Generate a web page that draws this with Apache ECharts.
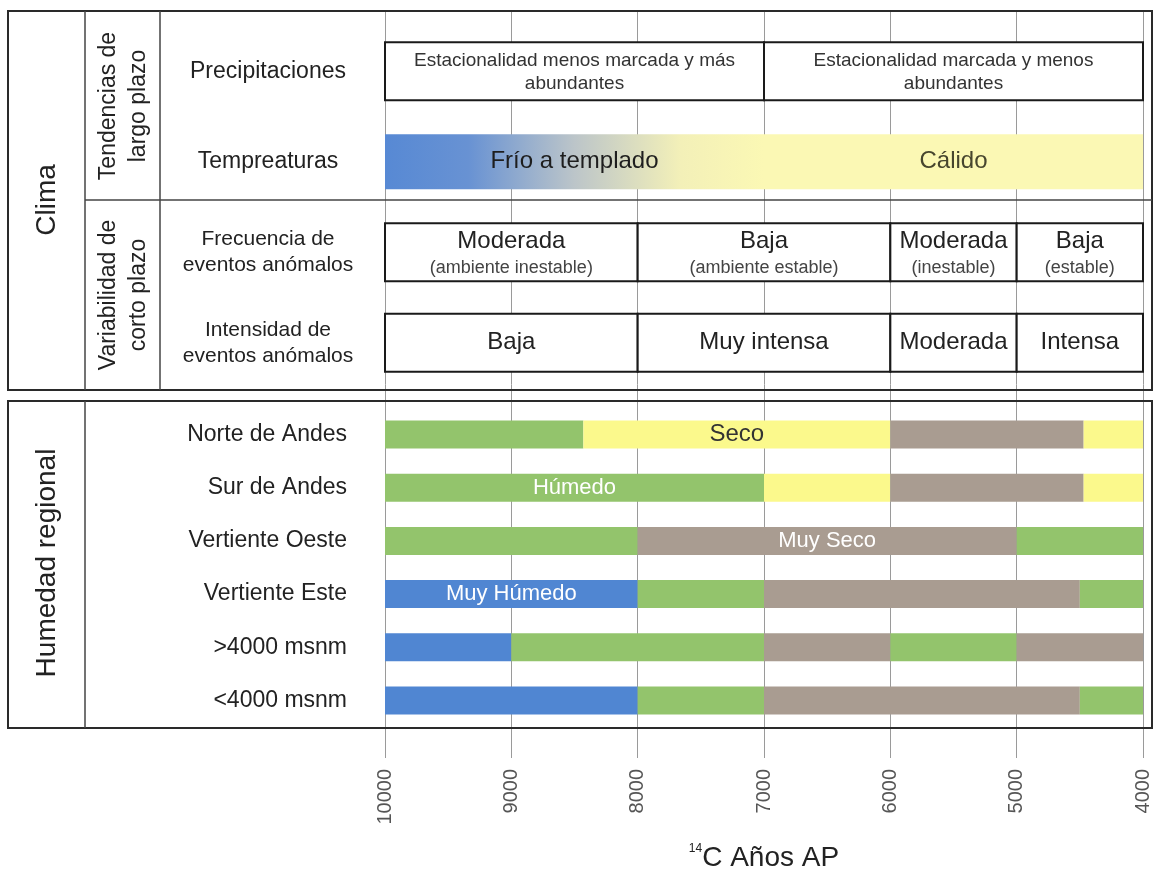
<!DOCTYPE html>
<html>
<head>
<meta charset="utf-8">
<script src="https://cdn.jsdelivr.net/npm/echarts@6/dist/echarts.min.js"></script>
<style>
  html, body { margin: 0; padding: 0; background: #fff; }
  #chart { width: 1157px; height: 877px; }
</style>
</head>
<body>
<div id="chart"></div>
<script>
  // ejes
  const years = [10000, 9000, 8000, 7000, 6000, 5000, 4000];
  const climaRows = ['Precipitaciones', 'Tempreaturas', 'Frecuencia de\neventos anómalos', 'Intensidad de\neventos anómalos'];
  const humedadRows = ['Norte de Andes', 'Sur de Andes', 'Vertiente Oeste', 'Vertiente Este', '>4000 msnm', '<4000 msnm'];

  // clima: [inicio, fin, texto, subtexto]
  const precipitaciones = [
    [10000, 7000, 'Estacionalidad menos marcada y más\nabundantes'],
    [7000, 4000, 'Estacionalidad marcada y menos\nabundantes']
  ];
  const temperaturas = [
    [10000, 7000, 'Frío a templado'],
    [7000, 4000, 'Cálido']
  ];
  const frecuencia = [
    [10000, 8000, 'Moderada', '(ambiente inestable)'],
    [8000, 6000, 'Baja', '(ambiente estable)'],
    [6000, 5000, 'Moderada', '(inestable)'],
    [5000, 4000, 'Baja', '(estable)']
  ];
  const intensidad = [
    [10000, 8000, 'Baja'],
    [8000, 6000, 'Muy intensa'],
    [6000, 5000, 'Moderada'],
    [5000, 4000, 'Intensa']
  ];

  // humedad regional: [inicio, fin, estado, texto]
  const norteAndes = [[10000, 8430, 'humedo'], [8430, 6000, 'seco', 'Seco'], [6000, 4470, 'muySeco'], [4470, 4000, 'seco']];
  const surAndes = [[10000, 7000, 'humedo', 'Húmedo'], [7000, 6000, 'seco'], [6000, 4470, 'muySeco'], [4470, 4000, 'seco']];
  const vertienteOeste = [[10000, 8000, 'humedo'], [8000, 5000, 'muySeco', 'Muy Seco'], [5000, 4000, 'humedo']];
  const vertienteEste = [[10000, 8000, 'muyHumedo', 'Muy Húmedo'], [8000, 7000, 'humedo'], [7000, 4500, 'muySeco'], [4500, 4000, 'humedo']];
  const sobre4000 = [[10000, 9000, 'muyHumedo'], [9000, 7000, 'humedo'], [7000, 6000, 'muySeco'], [6000, 5000, 'humedo'], [5000, 4000, 'muySeco']];
  const bajo4000 = [[10000, 8000, 'muyHumedo'], [8000, 7000, 'humedo'], [7000, 4500, 'muySeco'], [4500, 4000, 'humedo']];

  // estilos
  const FONT = 'Liberation Sans, Arial, sans-serif';
  const stateColors = { muyHumedo: '#5086d2', humedo: '#93c46c', seco: '#fbf98c', muySeco: '#a99c91' };
  const stateText = { muyHumedo: '#fff', humedo: '#fff', seco: '#333', muySeco: '#fff' };
  const tempFill = [
    {
      type: 'linear', x: 0, y: 0, x2: 1, y2: 0,
      colorStops: [
        { offset: 0, color: '#5789d4' },
        { offset: 0.22, color: '#6892d3' },
        { offset: 0.5, color: '#bcc5c9' },
        { offset: 0.78, color: '#f3f0b8' },
        { offset: 1, color: '#fbf8b4' }
      ]
    },
    '#fbf8b4'
  ];

  const climaItems = [];
  [precipitaciones, temperaturas, frecuencia, intensidad].forEach((list, row) => {
    list.forEach((s, i) => climaItems.push({ row, idx: i, start: s[0], end: s[1], main: s[2], sub: s[3] }));
  });
  const humedadItems = [];
  [norteAndes, surAndes, vertienteOeste, vertienteEste, sobre4000, bajo4000].forEach((list, row) => {
    list.forEach(s => humedadItems.push({ row, start: s[0], end: s[1], state: s[2], label: s[3] }));
  });

  function renderClima(params, api) {
    const d = climaItems[params.dataIndex];
    const p0 = api.coord([d.start, d.row]);
    const p1 = api.coord([d.end, d.row]);
    const cy = p0[1];
    const h = d.row === 1 ? 55 : 58;
    const children = [];
    const cx = (p0[0] + p1[0]) / 2;
    if (d.row === 1) {
      children.push({
        type: 'rect',
        shape: { x: p0[0], y: cy - h / 2, width: p1[0] - p0[0], height: h },
        style: { fill: tempFill[d.idx] }
      });
      children.push({
        type: 'text',
        style: { text: d.main, x: cx, y: cy, align: 'center', verticalAlign: 'middle', font: '24px ' + FONT, fill: d.idx === 0 ? '#1e1e1e' : '#47462e' }
      });
    } else {
      children.push({
        type: 'rect',
        shape: { x: p0[0], y: cy - h / 2, width: p1[0] - p0[0], height: h },
        style: { fill: '#fff', stroke: '#1a1a1a', lineWidth: 2 }
      });
      if (d.row === 0) {
        children.push({
          type: 'text',
          style: { text: d.main, x: cx, y: cy + 1, align: 'center', verticalAlign: 'middle', font: '19px ' + FONT, lineHeight: 23, fill: '#333' }
        });
      } else if (d.row === 2) {
        children.push({
          type: 'text',
          style: { text: d.main, x: cx, y: cy - 11, align: 'center', verticalAlign: 'middle', font: '24px ' + FONT, fill: '#222' }
        });
        children.push({
          type: 'text',
          style: { text: d.sub, x: cx, y: cy + 16, align: 'center', verticalAlign: 'middle', font: '18px ' + FONT, fill: '#444' }
        });
      } else {
        children.push({
          type: 'text',
          style: { text: d.main, x: cx, y: cy, align: 'center', verticalAlign: 'middle', font: '24px ' + FONT, fill: '#222' }
        });
      }
    }
    return { type: 'group', children };
  }

  function renderHumedad(params, api) {
    const d = humedadItems[params.dataIndex];
    const p0 = api.coord([d.start, d.row]);
    const p1 = api.coord([d.end, d.row]);
    const h = 28;
    const children = [{
      type: 'rect',
      shape: { x: p0[0], y: p0[1] - h / 2, width: p1[0] - p0[0], height: h },
      style: { fill: stateColors[d.state] }
    }];
    if (d.label) {
      children.push({
        type: 'text',
        style: {
          text: d.label, x: (p0[0] + p1[0]) / 2, y: p0[1], align: 'center', verticalAlign: 'middle',
          font: (d.state === 'seco' ? '24px ' : '22px ') + FONT, fill: stateText[d.state]
        }
      });
    }
    return { type: 'group', children };
  }

  const chart = echarts.init(document.getElementById('chart'));
  const xBase = { type: 'value', min: 4000, max: 10000, interval: 1000, inverse: true };

  const frameStyle = { fill: 'transparent', stroke: '#2a2a2a', lineWidth: 2 };
  const lineStyle = { stroke: '#444', lineWidth: 1.5 };

  chart.setOption({
    backgroundColor: '#fff',
    animation: false,
    grid: [
      { left: 385, right: 14, top: 11, bottom: 119 },
      { left: 385, right: 14, top: 26, height: 362 },
      { left: 385, right: 14, top: 408, height: 319 }
    ],
    xAxis: [
      Object.assign({}, xBase, {
        gridIndex: 0,
        axisLine: { show: false }, axisTick: { show: false }, axisLabel: { show: false },
        splitLine: { show: true, lineStyle: { color: '#9a9a9a', width: 1 } }
      }),
      Object.assign({}, xBase, { gridIndex: 1, show: false, splitLine: { show: false } }),
      Object.assign({}, xBase, {
        gridIndex: 2,
        position: 'bottom',
        axisLine: { show: false },
        axisTick: { show: false },
        splitLine: { show: false },
        axisLabel: {
          customValues: years,
          rotate: 90, margin: 42, fontSize: 20, color: '#555', fontFamily: FONT,
          formatter: v => String(v)
        },
        name: '{sup|14}{t|C Años AP}',
        nameLocation: 'middle',
        nameGap: 116,
        nameTextStyle: {
          rich: {
            sup: { fontSize: 12, fontFamily: FONT, color: '#222', verticalAlign: 'top', lineHeight: 30 },
            t: { fontSize: 28, fontFamily: FONT, color: '#222', lineHeight: 30 }
          }
        }
      })
    ],
    yAxis: [
      { type: 'value', gridIndex: 0, show: false },
      {
        type: 'category', gridIndex: 1, inverse: true,
        data: climaRows,
        axisLine: { show: false }, axisTick: { show: false }, splitLine: { show: false },
        axisLabel: {
          margin: 17,
          formatter: (v, i) => v.split('\n').map(l => (i < 2 ? '{a|' : '{b|') + l + '}').join('\n'),
          rich: {
            a: { width: 200, align: 'center', fontSize: 23, lineHeight: 26, color: '#222', fontFamily: FONT },
            b: { width: 200, align: 'center', fontSize: 21, lineHeight: 26, color: '#222', fontFamily: FONT }
          }
        }
      },
      {
        type: 'category', gridIndex: 2, inverse: true,
        data: humedadRows,
        axisLine: { show: false }, axisTick: { show: false }, splitLine: { show: false },
        axisLabel: { margin: 38, color: '#222', fontFamily: FONT, fontSize: 23 }
      }
    ],
    series: [
      {
        type: 'custom', xAxisIndex: 1, yAxisIndex: 1,
        encode: { x: [0, 1], y: 2 },
        data: climaItems.map(d => [d.start, d.end, d.row]),
        renderItem: renderClima
      },
      {
        type: 'custom', xAxisIndex: 2, yAxisIndex: 2,
        encode: { x: [0, 1], y: 2 },
        data: humedadItems.map(d => [d.start, d.end, d.row]),
        renderItem: renderHumedad
      }
    ],
    graphic: [
      // marcos
      { type: 'rect', z: 100, shape: { x: 8, y: 11, width: 1144, height: 379 }, style: frameStyle },
      { type: 'line', z: 100, shape: { x1: 85, y1: 11, x2: 85, y2: 390 }, style: lineStyle },
      { type: 'line', z: 100, shape: { x1: 160, y1: 11, x2: 160, y2: 390 }, style: lineStyle },
      { type: 'line', z: 100, shape: { x1: 85, y1: 200, x2: 1152, y2: 200 }, style: lineStyle },
      { type: 'rect', z: 100, shape: { x: 8, y: 401, width: 1144, height: 327 }, style: frameStyle },
      { type: 'line', z: 100, shape: { x1: 85, y1: 401, x2: 85, y2: 728 }, style: lineStyle },
      // etiquetas de grupo
      {
        type: 'text', z: 100, x: 47, y: 200, rotation: Math.PI / 2,
        style: { text: 'Clima', font: '28px ' + FONT, fill: '#222', align: 'center', verticalAlign: 'middle' }
      },
      {
        type: 'text', z: 100, x: 124, y: 106, rotation: Math.PI / 2,
        style: { text: 'Tendencias de\nlargo plazo', font: '23px ' + FONT, lineHeight: 30, fill: '#222', align: 'center', verticalAlign: 'middle' }
      },
      {
        type: 'text', z: 100, x: 124, y: 295, rotation: Math.PI / 2,
        style: { text: 'Variabilidad de\ncorto plazo', font: '23px ' + FONT, lineHeight: 30, fill: '#222', align: 'center', verticalAlign: 'middle' }
      },
      {
        type: 'text', z: 100, x: 47, y: 563, rotation: Math.PI / 2,
        style: { text: 'Humedad regional', font: '28px ' + FONT, fill: '#222', align: 'center', verticalAlign: 'middle' }
      }
    ]
  });
</script>
</body>
</html>
